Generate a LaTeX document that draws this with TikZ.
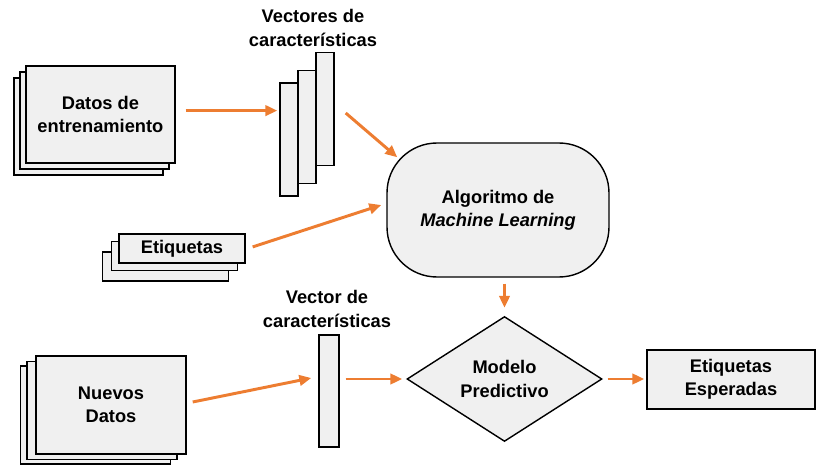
\documentclass[tikz,border=0pt]{standalone}
\usepackage{fontspec}
\setmainfont{Liberation Sans}
\usepackage{tikz}
\usetikzlibrary{shapes,arrows.meta,positioning,calc}
\usepackage{xcolor}
\definecolor{mlOrange}{RGB}{237,125,49}
\definecolor{mlFill}{RGB}{240,240,240}

\begin{document}
\begin{tikzpicture}[
    every node/.style={font=\fontsize{13}{16.5}\selectfont\bfseries, align=center},
    hoja/.style={draw, line width=1pt, fill=mlFill, inner sep=0pt},
    barra/.style={draw, line width=1pt, fill=mlFill, minimum width=0.45cm, minimum height=2.825cm, inner sep=0pt},
    flecha/.style={draw=mlOrange, line width=2.1pt, -{Triangle[length=3mm,width=2.6mm]}}]
  \useasboundingbox (0,0) rectangle (20.4,11.625);
  % Training data stack
  \node[hoja, minimum width=3.725cm, minimum height=2.425cm] (datosB) at (2.21,8.46) {};
  \node[hoja, minimum width=3.725cm, minimum height=2.425cm] (datosM) at (2.36,8.61) {};
  \node[hoja, minimum width=3.725cm, minimum height=2.425cm] (datos) at (2.51,8.76) {Datos de\\entrenamiento};
  % Feature vectors
  \node[barra] (vecA) at (7.225,8.1375) {};
  \node[barra] (vecB) at (7.675,8.45) {};
  \node[barra] (vecC) at (8.125,8.9) {};
  \node (vecLbl) at (7.825,10.925) {Vectores de\\características};
  % Labels stack
  \node[hoja, minimum width=3.15cm, minimum height=0.725cm] (etiqB) at (4.1375,4.9625) {};
  \node[hoja, minimum width=3.15cm, minimum height=0.725cm] (etiqM) at (4.3625,5.225) {};
  \node[hoja, minimum width=3.15cm, minimum height=0.725cm] (etiq) at (4.55,5.4125) {Etiquetas};
  % Learning algorithm
  \node[hoja, rounded corners=1.25cm, minimum width=5.55cm, minimum height=3.35cm]
    (algo) at (12.45,6.375) {Algoritmo de\\\textit{Machine Learning}};
  % New data stack
  \node[hoja, minimum width=3.75cm, minimum height=2.45cm] (nuevosB) at (2.3875,1.25) {};
  \node[hoja, minimum width=3.75cm, minimum height=2.45cm] (nuevosM) at (2.55,1.3625) {};
  \node[hoja, minimum width=3.75cm, minimum height=2.45cm] (nuevos) at (2.775,1.5) {Nuevos\\Datos};
  % Single feature vector
  \node[barra, minimum width=0.5cm, minimum height=2.8cm] (vec) at (8.225,1.85) {};
  \node (vecLbl2) at (8.175,3.9) {Vector de\\características};
  % Predictive model and output
  \node[hoja, diamond, minimum width=4.875cm, minimum height=2.925cm] (modelo) at (12.6125,2.15) {Modelo\\Predictivo};
  \node[hoja, minimum width=4.2cm, minimum height=1.475cm] (salida) at (18.275,2.1375) {Etiquetas\\Esperadas};
  % Arrows
  \draw[flecha, shorten <=0.25cm, shorten >=0.05cm] ([yshift=1mm]datos.east) -- ([yshift=1mm]datos.east -| vecA.west);
  \draw[flecha] ([shift={(0.275,-0.1)}]vecC.east) -- ([shift={(0.275,-0.375)}]algo.north west);
  \draw[flecha] ([shift={(0.175,0.04)}]etiq.east) -- ([shift={(-0.125,0.125)}]algo.west);
  \draw[flecha, shorten <=0.15cm, shorten >=0.2cm] (algo.south -| modelo.north) -- (modelo.north);
  \draw[flecha] ([shift={(0.15,0.075)}]nuevos.east) -- ([shift={(-0.175,0.325)}]vec.west);
  \draw[flecha, shorten <=0.15cm, shorten >=0.1cm] (vec.east |- modelo.west) -- (modelo.west);
  \draw[flecha, shorten <=0.125cm, shorten >=0.05cm] (modelo.east) -- (salida.west |- modelo.east);
\end{tikzpicture}
\end{document}
